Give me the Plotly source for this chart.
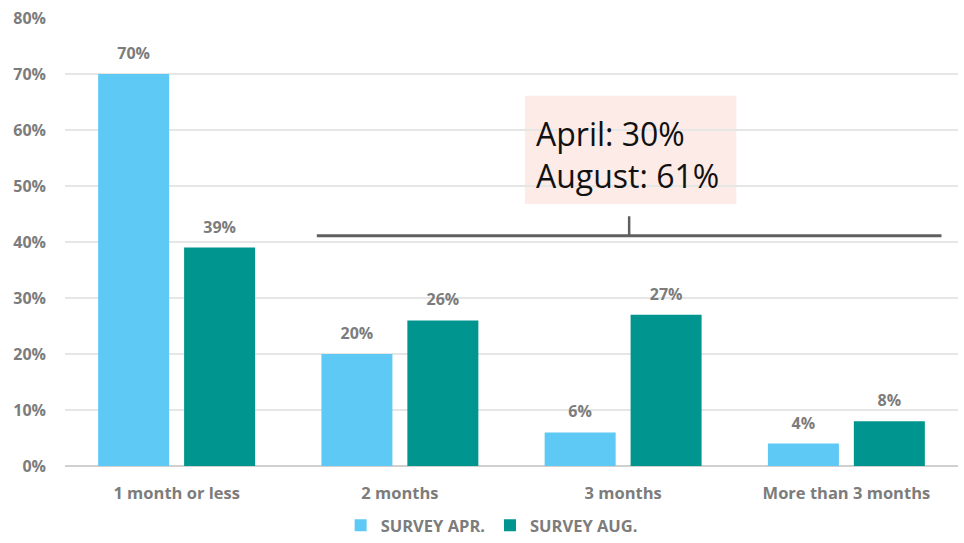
import plotly.graph_objects as go

categories = ["1 month or less", "2 months", "3 months", "More than 3 months"]
survey_apr = [70, 20, 6, 4]
survey_aug = [39, 26, 27, 8]
series_names = ["SURVEY APR.", "SURVEY AUG."]
y_ticks = [0, 10, 20, 30, 40, 50, 60, 70, 80]
callout_lines = ["April: 30%", "August: 61%"]

gray = "#7c7c7c"
font_family = "Open Sans"
colors = ["#5ec9f4", "#00968f"]
xs = list(range(len(categories)))

fig = go.Figure()
for name, vals, col, grp in zip(series_names, [survey_apr, survey_aug], colors, ["a", "b"]):
    fig.add_trace(go.Bar(
        x=xs, y=vals, name=name, offsetgroup=grp,
        marker=dict(color=col, line=dict(width=0)),
    ))
for vals, grp in zip([survey_apr, survey_aug], ["a", "b"]):
    fig.add_trace(go.Scatter(
        x=xs, y=vals, mode="markers+text", offsetgroup=grp, showlegend=False,
        marker=dict(size=16, opacity=0), hoverinfo="skip",
        text=[f"{v}%" for v in vals], textposition="top center",
        textfont=dict(family=font_family, size=16, color=gray, weight="bold"),
        cliponaxis=False,
    ))

# bracket spanning the 2+ month categories
fig.add_shape(type="line", xref="x", yref="y", x0=0.628, x1=3.426, y0=41.1, y1=41.1,
              line=dict(color="#5f5f5f", width=3))
fig.add_shape(type="line", xref="x", yref="y", x0=2.027, x1=2.027, y0=41.1, y1=44.6,
              line=dict(color="#5f5f5f", width=2.5))

# callout box
fig.add_shape(type="rect", xref="x", yref="y", x0=1.56, x1=2.507, y0=46.8, y1=66.1,
              fillcolor="#fcebe7", line=dict(width=0), layer="below")
fig.add_annotation(x=1.600, y=59.4, xref="x", yref="y", text=callout_lines[0], showarrow=False,
                   xanchor="left", yanchor="middle", font=dict(family=font_family, size=32, color="#111111"))
fig.add_annotation(x=1.600, y=51.9, xref="x", yref="y", text=callout_lines[1], showarrow=False,
                   xanchor="left", yanchor="middle", font=dict(family=font_family, size=32, color="#111111"))

fig.update_layout(
    width=964, height=543,
    margin=dict(l=65, r=6, t=18, b=77, autoexpand=False),
    plot_bgcolor="white", paper_bgcolor="white",
    barmode="group", bargap=0.23, bargroupgap=0.174,
    scattermode="group", scattergap=0.23,
    font=dict(family=font_family, color=gray),
    showlegend=True,
    legend=dict(orientation="h", xref="container", x=0.51, xanchor="center",
                yref="container", y=0.0, yanchor="bottom",
                font=dict(family=font_family, size=16.5, color=gray, weight="bold"),
                itemwidth=30, traceorder="normal"),
    xaxis=dict(
        range=[-0.5, 3.5], tickmode="array", tickvals=xs,
        ticktext=categories, showgrid=False, zeroline=False, showline=False,
        tickfont=dict(family=font_family, size=16.5, color=gray, weight="bold"),
        ticklabelstandoff=15, automargin=False,
    ),
    yaxis=dict(
        range=[0, 80], tickmode="array", tickvals=y_ticks,
        ticktext=[f"{v}%" for v in y_ticks], showgrid=True, gridcolor="#e6e6e6",
        gridwidth=1.5, zeroline=True, zerolinecolor="#d0d0d0", zerolinewidth=2,
        tickfont=dict(family=font_family, size=16, color=gray, weight="bold"),
        ticklabelstandoff=18, automargin=False,
    ),
)

fig.write_html("out.html", config={"displayModeBar": False},
               post_script="document.body.style.margin='0';")
